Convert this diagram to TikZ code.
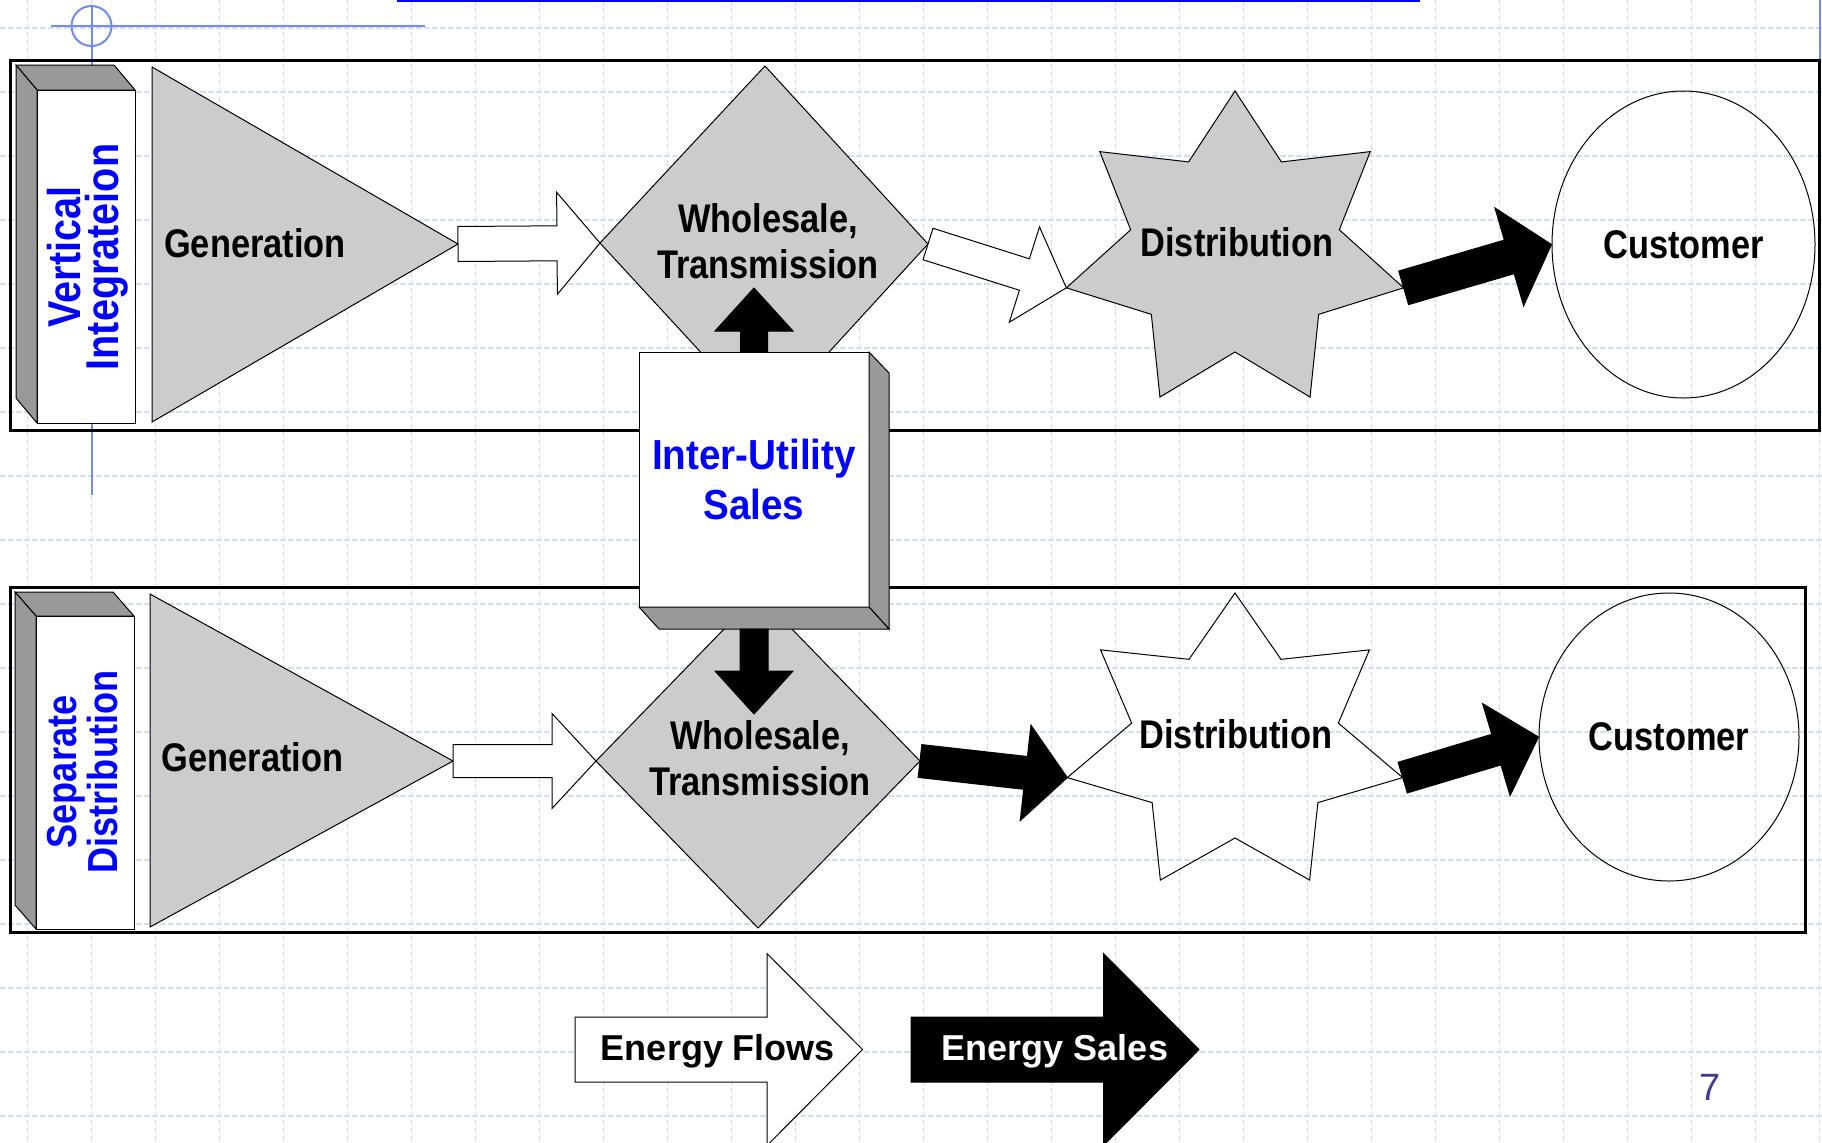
\documentclass[tikz,border=0pt]{standalone}
\usepackage{fontspec}
\setmainfont{Liberation Sans}
\newfontfamily\narrowfont[FakeStretch=0.86]{Liberation Sans}
\newfontfamily\salesfont[FakeStretch=0.92]{Liberation Sans}
\usepackage{tikz}
\usetikzlibrary{calc}
\usetikzlibrary{shapes.geometric}

\definecolor{shapegray}{HTML}{CCCCCC}
\definecolor{facegray}{HTML}{999999}
\definecolor{labelblue}{HTML}{0000FF}
\definecolor{markblue}{HTML}{6F8DF0}
\definecolor{gridblue}{HTML}{D4DEF8}
\definecolor{numblue}{HTML}{3D3D8F}

\tikzset{
  gridline/.style={draw=gridblue, line width=0.7pt, dash pattern=on 3pt off 1pt},
  markline/.style={draw=markblue, line width=1pt},
  rowframe/.style={draw=black, line width=1.5pt},
  outline/.style={draw=black, line width=0.5pt},
  grayshape/.style={outline, fill=shapegray},
  sideface/.style={outline, fill=facegray},
  whitebox/.style={outline, fill=white, inner sep=0pt, outer sep=0pt},
  flowarrow/.style={outline, fill=white},
  salesarrow/.style={draw=black, line width=0.5pt, fill=black},
  blacklabel/.style={font=\narrowfont\bfseries\fontsize{20pt}{23pt}\selectfont, align=center, inner sep=0pt},
  rowlabel/.style={text=labelblue, rotate=90, align=center, inner sep=0pt},
  legendlabel/.style={font=\bfseries\fontsize{18pt}{21pt}\selectfont, inner sep=0pt, anchor=base}
}

% tail, tip, shaft half width, head half width, head length
\newcommand{\blockarrow}[6]{%
  \coordinate (headbase) at ($(#3)!#6!(#2)$) ;
  \filldraw[#1] ($(#2)!#4!90:(#3)$) -- ($(headbase)!#4!90:(#3)$) -- ($(headbase)!#5!90:(#3)$) -- (#3)
    -- ($(headbase)!#5!-90:(#3)$) -- ($(headbase)!#4!-90:(#3)$) -- ($(#2)!#4!-90:(#3)$) -- cycle ;}

\begin{document}
\begin{tikzpicture}[x=0.5pt, y=-0.5pt]
\useasboundingbox (0,0) rectangle (1822,1142) ;
\fill[white] (0,0) rectangle (1822,1142) ;
\foreach \g in {0,...,28}
  {\draw[gridline] ({27.5+64*\g},0) -- ({27.5+64*\g},1142) ;}
\foreach \g in {0,...,17}
  {\draw[gridline] (0,{28+64*\g}) -- (1822,{28+64*\g}) ;}
\draw[draw=labelblue, line width=1.2pt] (397,1.2) -- (1420,1.2) ;
\draw[markline] (51,26) -- (425,26) ;
\draw[markline] (91.5,5) -- (91.5,495) ;
\draw[markline] (91.5,26) circle (20) ;
\draw[markline] (1820,0) -- (1820,60) ;
\draw[rowframe] (10,60) rectangle (1819,430) ;
\draw[rowframe] (10,587) rectangle (1805,932) ;

% vertical integration
\node[whitebox, minimum width=49pt, minimum height=166.5pt] (vbox1) at (86,256.5) {} ;
\filldraw[sideface] (vbox1.north west) -- ++(-21,-25) -- ($(vbox1.north east)+(-21,-25)$) -- (vbox1.north east) -- cycle ;
\filldraw[sideface] (vbox1.north west) -- ++(-21,-25) -- ($(vbox1.south west)+(-21,-25)$) -- (vbox1.south west) -- cycle ;
\node[rowlabel, font=\narrowfont\bfseries\fontsize{23pt}{19pt}\selectfont] (vtxt1) at (87.5,257) {Vertical\\Integrateion} ;

\coordinate (gen1) at (458,244) ;
\filldraw[grayshape] (152,67) -- (gen1) -- (152,422) -- cycle ;
\node[blacklabel, anchor=base] (gtxt1) at (255,257) {Generation} ;

\coordinate (ws1w) at (600,243) ;
\coordinate (ws1e) at (928,244) ;
\filldraw[grayshape] (ws1w) -- (765,66) -- (ws1e) -- (765,422) -- cycle ;
\node[blacklabel] (wtxt1) at (768,241) {Wholesale,\\Transmission} ;
\blockarrow{flowarrow}{gen1}{ws1w}{8.75pt}{25.5pt}{21.5pt}

\coordinate (dist1) at (1235,252) ;
\coordinate (dist1w) at ($(dist1)+({-90+5*360/7}:173 and 161)$) ;
\coordinate (dist1e) at ($(dist1)+({-90+2*360/7}:173 and 161)$) ;
\filldraw[grayshape] ($(dist1)+(-90:173 and 161)$)
  \foreach \k in {0,...,6} { -- ($(dist1)+({-90+\k*360/7+180/7}:107 and 100)$) -- ($(dist1)+({-90+(\k+1)*360/7}:173 and 161)$) } -- cycle ;
\node[blacklabel, anchor=base] (dtxt1) at (1237,256) {Distribution} ;
\blockarrow{flowarrow}{ws1e}{dist1w}{8.25pt}{25pt}{22pt}

\node[ellipse, outline, blacklabel, minimum width=131.5pt, minimum height=153.5pt] (cust1) at (1683.5,244.5) {Customer} ;
\blockarrow{salesarrow}{dist1e}{cust1.west}{8.75pt}{25.5pt}{22pt}

% separate distribution
\node[whitebox, minimum width=49pt, minimum height=156.5pt] (vbox2) at (85,772.5) {} ;
\filldraw[sideface] (vbox2.north west) -- ++(-21,-24) -- ($(vbox2.north east)+(-21,-24)$) -- (vbox2.north east) -- cycle ;
\filldraw[sideface] (vbox2.north west) -- ++(-21,-24) -- ($(vbox2.south west)+(-21,-24)$) -- (vbox2.south west) -- cycle ;
\node[rowlabel, font=\narrowfont\bfseries\fontsize{21pt}{19pt}\selectfont] (vtxt2) at (82.5,772) {Separate\\Distribution} ;

\coordinate (gen2) at (453,761) ;
\filldraw[grayshape] (150,594) -- (gen2) -- (150,927) -- cycle ;
\node[blacklabel, anchor=base] (gtxt2) at (252.5,771.5) {Generation} ;

\coordinate (ws2w) at (596,761) ;
\coordinate (ws2e) at (920,761) ;
\filldraw[grayshape] (ws2w) -- (758,594) -- (ws2e) -- (758,928) -- cycle ;
\node[blacklabel] (wtxt2) at (760,758) {Wholesale,\\Transmission} ;
\blockarrow{flowarrow}{gen2}{ws2w}{8.25pt}{23.75pt}{22pt}

\coordinate (dist2) at (1235,744) ;
\coordinate (dist2w) at ($(dist2)+({-90+5*360/7}:172 and 151)$) ;
\coordinate (dist2e) at ($(dist2)+({-90+2*360/7}:172 and 151)$) ;
\draw[outline] ($(dist2)+(-90:172 and 151)$)
  \foreach \k in {0,...,6} { -- ($(dist2)+({-90+\k*360/7+180/7}:106 and 94)$) -- ($(dist2)+({-90+(\k+1)*360/7}:172 and 151)$) } -- cycle ;
\node[blacklabel, anchor=base] (dtxt2) at (1236,748) {Distribution} ;
\blockarrow{salesarrow}{ws2e}{dist2w}{8.25pt}{24pt}{21pt}

\node[ellipse, outline, blacklabel, minimum width=130pt, minimum height=144pt] (cust2) at (1669,737) {Customer} ;
\blockarrow{salesarrow}{dist2e}{cust2.west}{8pt}{24pt}{22pt}

% inter-utility sales
\node[whitebox, text=labelblue, align=center, font=\salesfont\bfseries\fontsize{21pt}{25pt}\selectfont,
  minimum width=115pt, minimum height=127.5pt] (iubox) at (754,479.5) {Inter-Utility\\Sales} ;
\filldraw[sideface] (iubox.north east) -- ++(20,21) -- ($(iubox.south east)+(20,22)$) -- (iubox.south east) -- cycle ;
\filldraw[sideface] (iubox.south west) -- (iubox.south east) -- ++(20,22) -- ($(iubox.south west)+(20,22)$) -- cycle ;
\coordinate (upt) at (754,288) ;
\coordinate (iuout) at ($(iubox.south)+(0,22)$) ;
\coordinate (dnt) at (754,714) ;
\blockarrow{salesarrow}{iubox.north}{upt}{6.75pt}{19.5pt}{21.5pt}
\blockarrow{salesarrow}{iuout}{dnt}{7pt}{19.5pt}{21.5pt}

% legend
\coordinate (flowtail) at (575,1049.5) ;
\coordinate (flowtip) at (862.5,1049.5) ;
\coordinate (saletail) at (911,1049.5) ;
\coordinate (saletip) at (1199,1049.5) ;
\blockarrow{flowarrow}{flowtail}{flowtip}{16.25pt}{48pt}{47.75pt}
\blockarrow{salesarrow}{saletail}{saletip}{16.25pt}{48pt}{47.75pt}
\node[legendlabel] (flowtxt) at (718,1060) {Energy Flows} ;
\node[legendlabel, text=white] (saletxt) at (1055,1060) {Energy Sales} ;

\node[font=\fontsize{19pt}{22pt}\selectfont, text=numblue, anchor=base, inner sep=0pt] (pagenum) at (1710,1100) {7} ;
\end{tikzpicture}
\end{document}
